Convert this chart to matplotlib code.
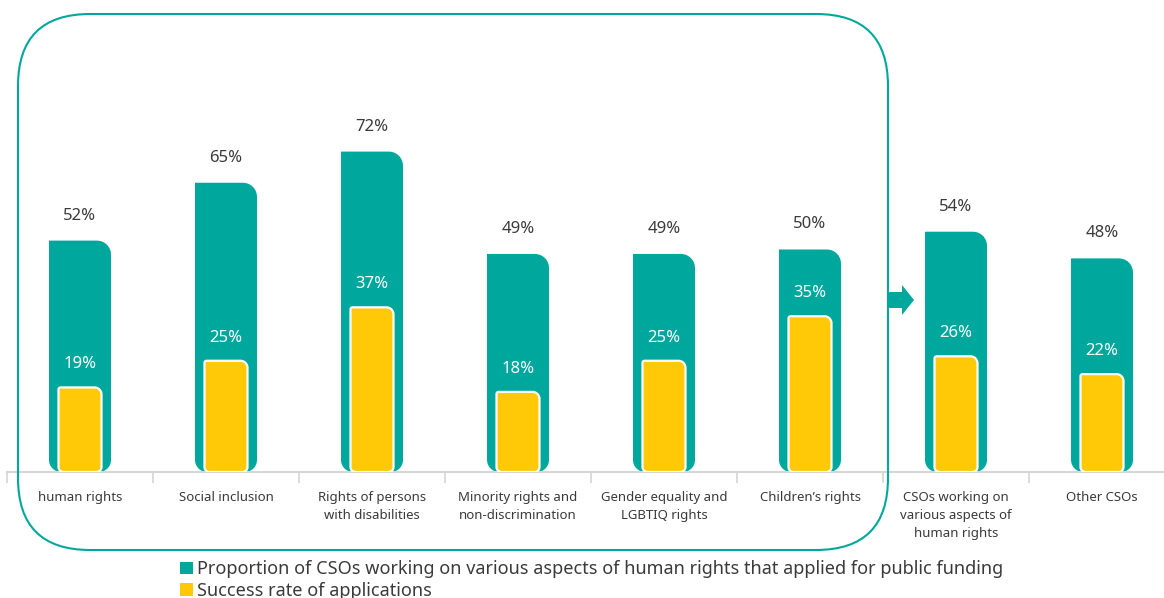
import numpy as np
import matplotlib
matplotlib.use('Agg')
import matplotlib.pyplot as plt
from matplotlib.path import Path
from matplotlib.patches import PathPatch, FancyBboxPatch, Polygon, Patch

plt.rcParams['font.family'] = ['Noto Sans', 'DejaVu Sans']

# data
categories = ['human rights', 'Social inclusion', 'Rights of persons\nwith disabilities',
              'Minority rights and\nnon-discrimination', 'Gender equality and\nLGBTIQ rights',
              "Children\u2019s rights", 'CSOs working on\nvarious aspects of\nhuman rights',
              'Other CSOs']
applied = [52, 65, 72, 49, 49, 50, 54, 48]
success = [19, 25, 37, 18, 25, 35, 26, 22]
legend_labels = ['Proportion of CSOs working on various aspects of human rights that applied for public funding',
                 'Success rate of applications']

teal = '#00A79D'
yellow = '#FFC907'
txt = '#3A3A3A'

W, H = 1164, 598
fig = plt.figure(figsize=(W / 100, H / 100), dpi=100)

# main axes: baseline at y=472 px, category width 146 px
x0, base, cw, ppu = 7, 472, 146, 4.45
n = len(categories)
ax = fig.add_axes([x0 / W, (H - base) / H, n * cw / W, base / H])
ax.set_xlim(-0.5, n - 0.5)
ax.set_ylim(0, base / ppu)
ax.set_facecolor('none')


def bar_path(xc, w, h, r_tl, r_tr, r_bl, r_br):
    # rounded corners given in pixels, converted to data units
    def c(r):
        return r / cw, r / ppu
    left, right = xc - w / 2, xc + w / 2
    verts = []
    t = np.linspace(0, np.pi / 2, 10)
    rx, ry = c(r_bl)
    verts += list(zip(left + rx - rx * np.cos(t), ry - ry * np.sin(t)))
    rx, ry = c(r_br)
    verts += list(zip(right - rx + rx * np.sin(t), ry - ry * np.cos(t)))
    rx, ry = c(r_tr)
    verts += list(zip(right - rx + rx * np.cos(t), h - ry + ry * np.sin(t)))
    rx, ry = c(r_tl)
    verts += list(zip(left + rx - rx * np.sin(t), h - ry + ry * np.cos(t)))
    verts.append(verts[0])
    codes = [Path.MOVETO] + [Path.LINETO] * (len(verts) - 2) + [Path.CLOSEPOLY]
    return Path(verts, codes)


xs = np.arange(n)
for i in xs:
    ax.add_patch(PathPatch(bar_path(i, 62 / cw, applied[i], 0, 14, 12, 12),
                           facecolor=teal, edgecolor='none', zorder=2))
    ax.add_patch(PathPatch(bar_path(i, 43 / cw, success[i], 2, 7, 5, 5),
                           facecolor=yellow, edgecolor='white', lw=1.6, zorder=3))
    ax.text(i, applied[i] + 25 / ppu, f'{applied[i]}%', ha='center', va='center',
            fontsize=12, color=txt)
    ax.text(i, success[i] + 23 / ppu, f'{success[i]}%', ha='center', va='center',
            fontsize=12, color='white', zorder=4)

for s in ['top', 'right', 'left']:
    ax.spines[s].set_visible(False)
ax.spines['bottom'].set_color('#D6D6D6')
ax.spines['bottom'].set_linewidth(1.5)
ax.set_yticks([])
ax.set_xticks(xs)
ax.set_xticklabels(categories, fontsize=9.5, color=txt, linespacing=1.5, va='top')
ax.set_xticks(np.arange(n + 1) - 0.5, minor=True)
ax.tick_params(axis='x', which='major', length=0, pad=14)
ax.tick_params(axis='x', which='minor', length=8, width=1.2, color='#D6D6D6')

# overlay in pixel coordinates for the frame and arrow
ov = fig.add_axes([0, 0, 1, 1])
ov.set_xlim(0, W)
ov.set_ylim(H, 0)
ov.axis('off')
ov.set_facecolor('none')
ov.add_patch(FancyBboxPatch((18, 14), 870, 536, boxstyle='round,pad=0,rounding_size=72',
                            facecolor='none', edgecolor=teal, lw=1.5))
ov.add_patch(Polygon([(888, 292), (902, 292), (902, 285), (914, 300), (902, 315),
                      (902, 308), (888, 308)], closed=True, facecolor=teal, edgecolor='none'))

handles = [Patch(facecolor=teal, edgecolor='none'), Patch(facecolor=yellow, edgecolor='none')]
fig.legend(handles, legend_labels, loc='upper left', bbox_to_anchor=(173 / W, 1 - 553 / H),
           frameon=False, fontsize=13, handlelength=0.68, handleheight=0.68,
           handletextpad=0.25, labelspacing=0.2, labelcolor=txt, borderaxespad=0)

fig.savefig('out.png', dpi=100)
